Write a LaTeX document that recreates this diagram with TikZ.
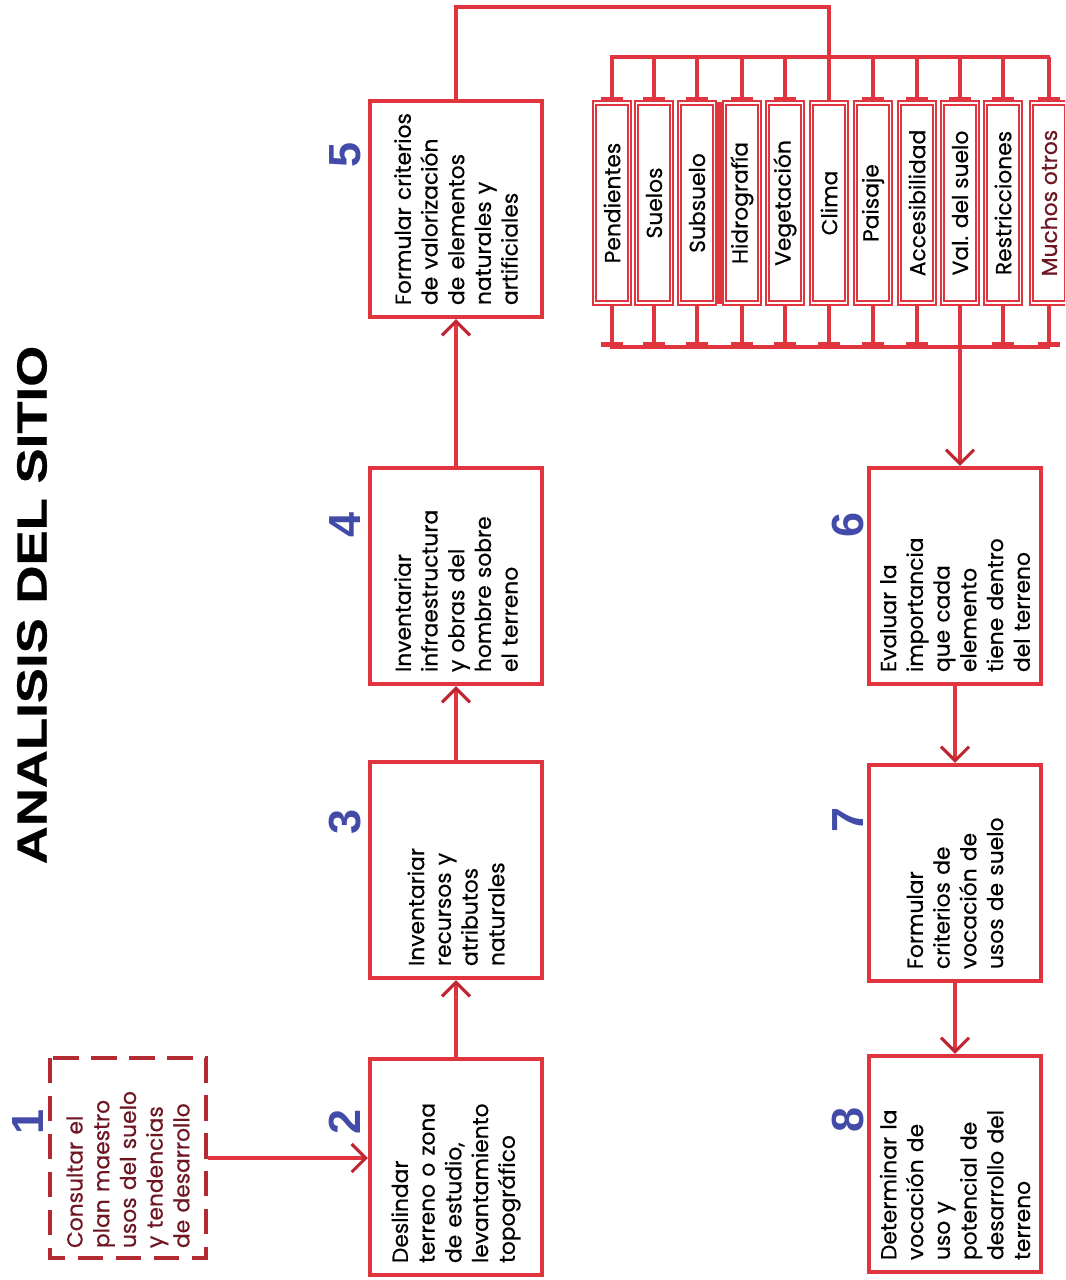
\documentclass[tikz,border=0pt]{standalone}
\usepackage{fontspec}
\setmainfont{Poppins}[FakeBold=0.5]
\newfontfamily\titlefont{Liberation Sans}[FakeStretch=1.25,FakeBold=0.6]
\newfontfamily\numfont{Liberation Sans}
\usetikzlibrary{arrows.meta}
\definecolor{boxred}{RGB}{224,52,62}
\definecolor{tipred}{RGB}{190,38,50}
\definecolor{numblue}{RGB}{66,76,168}
\definecolor{darkwine}{RGB}{110,22,34}
\tikzset{
  box/.style={draw=boxred,line width=3pt,fill=white,rotate=90,minimum width=5.4cm,
    minimum height=4.3cm,text width=4.8cm,align=left,font=\fontsize{15.5}{19}\selectfont},
  dashbox/.style={box,draw=boxred!80!black,dash pattern=on 18pt off 9pt,
    minimum width=5cm,minimum height=3.9cm,text width=4.5cm,text=darkwine},
  item/.style={draw=boxred,line width=1.5pt,double=white,double distance=1pt,fill=white,
    rotate=90,minimum width=5cm,minimum height=0.88cm,inner sep=1pt,font=\fontsize{15.5}{19}\selectfont},
  num/.style={rotate=90,text=numblue,font=\numfont\bfseries\fontsize{32}{32}\selectfont},
  link/.style={draw=boxred,line width=2.5pt},
  arr/.style={link,-{Straight Barb[color=tipred,length=10pt,width=20pt,line width=2.2pt]}},
  tick/.style={link,-{Bar[width=16pt,line width=3.5pt]}}
}
\begin{document}
\begin{tikzpicture}[x=0.025cm,y=-0.025cm]
  \useasboundingbox (0,0) rectangle (1065,1280);
  \clip (0,0) rectangle (1065,1280);
  % title
  \node[rotate=90,font=\titlefont\bfseries\fontsize{30}{30}\selectfont] (title) at (32,605) {ANALISIS DEL SITIO};
  % steps 1 to 5
  \node[dashbox] (b1) at (128,1158) {Consultar el\\plan maestro\\usos del suelo\\y tendencias\\de desarrollo};
  \node[box]     (b2) at (456,1167) {Deslindar\\terreno o zona\\de estudio,\\levantamiento\\topográfico};
  \node[box]     (b3) at (456,870)  {Inventariar\\recursos y\\atributos\\naturales};
  \node[box]     (b4) at (456,576)  {Inventariar\\infraestructura\\y obras del\\hombre sobre\\el terreno};
  \node[box]     (b5) at (456,209)  {Formular criterios\\de valorización\\de elementos\\naturales y\\artificiales};
  % steps 6 to 8
  \node[box]     (b6) at (955,576)  {Evaluar la\\importancia\\que cada\\elemento\\tiene dentro\\del terreno};
  \node[box]     (b7) at (955,873)  {Formular\\criterios de\\vocación de\\usos de suelo};
  \node[box]     (b8) at (955,1164) {Determinar la\\vocación de\\uso y\\potencial de\\desarrollo del\\terreno};
  \node[num] (n1) at (28,1122)  {1};
  \node[num] (n2) at (345,1122) {2};
  \node[num] (n3) at (345,822)  {3};
  \node[num] (n4) at (345,525)  {4};
  \node[num] (n5) at (345,155)  {5};
  \node[num] (n6) at (848,525)  {6};
  \node[num] (n7) at (848,820)  {7};
  \node[num] (n8) at (848,1120) {8};
  % elements
  \node[item] (e1)  at (612,203)  {Pendientes};
  \node[item] (e2)  at (654,203)  {Suelos};
  \node[item] (e3)  at (697,203)  {Subsuelo};
  \node[item] (e4)  at (742,203)  {Hidrografía};
  \node[item] (e5)  at (785,203)  {Vegetación};
  \node[item] (e6)  at (829,203)  {Clima};
  \node[item] (e7)  at (873,203)  {Paisaje};
  \node[item] (e8)  at (917,203)  {Accesibilidad};
  \node[item] (e9)  at (960,203)  {Val. del suelo};
  \node[item] (e10) at (1003,203) {Restricciones};
  \node[item,text=darkwine] (e11) at (1049,203) {Muchos otros};
  \fill[boxred] (e3.south east) rectangle (e4.north west);
  % connectors
  \draw[arr] (b1.south) -- (b1.south -| b2.north);
  \draw[arr] (b2) -- (b3);
  \draw[arr] (b3) -- (b4);
  \draw[arr] (b4) -- (b5);
  \coordinate (loop) at (0,7);
  \draw[link] (b5.east) -- (b5.east |- loop) -| (e6.east);
  \coordinate (busL) at (610,57);
  \coordinate (busR) at (1050,57);
  \coordinate (lowL) at (610,347);
  \coordinate (lowR) at (1050,347);
  \draw[link] (busL) -- (busR);
  \draw[link] (lowL) -- (lowR);
  \foreach \i in {1,2,3,4,5,7,8,9,10,11}
    \draw[tick] (e\i.east |- busL) -- (e\i.east);
  \foreach \i in {1,2,3,4,5,6,7,8,10,11}
    \draw[tick] (e\i.west) -- (e\i.west |- lowL);
  \draw[arr] (e9.west) -- (e9.west |- b6.east);
  \draw[arr] (b6) -- (b7);
  \draw[arr] (b7) -- (b8);
\end{tikzpicture}
\end{document}
